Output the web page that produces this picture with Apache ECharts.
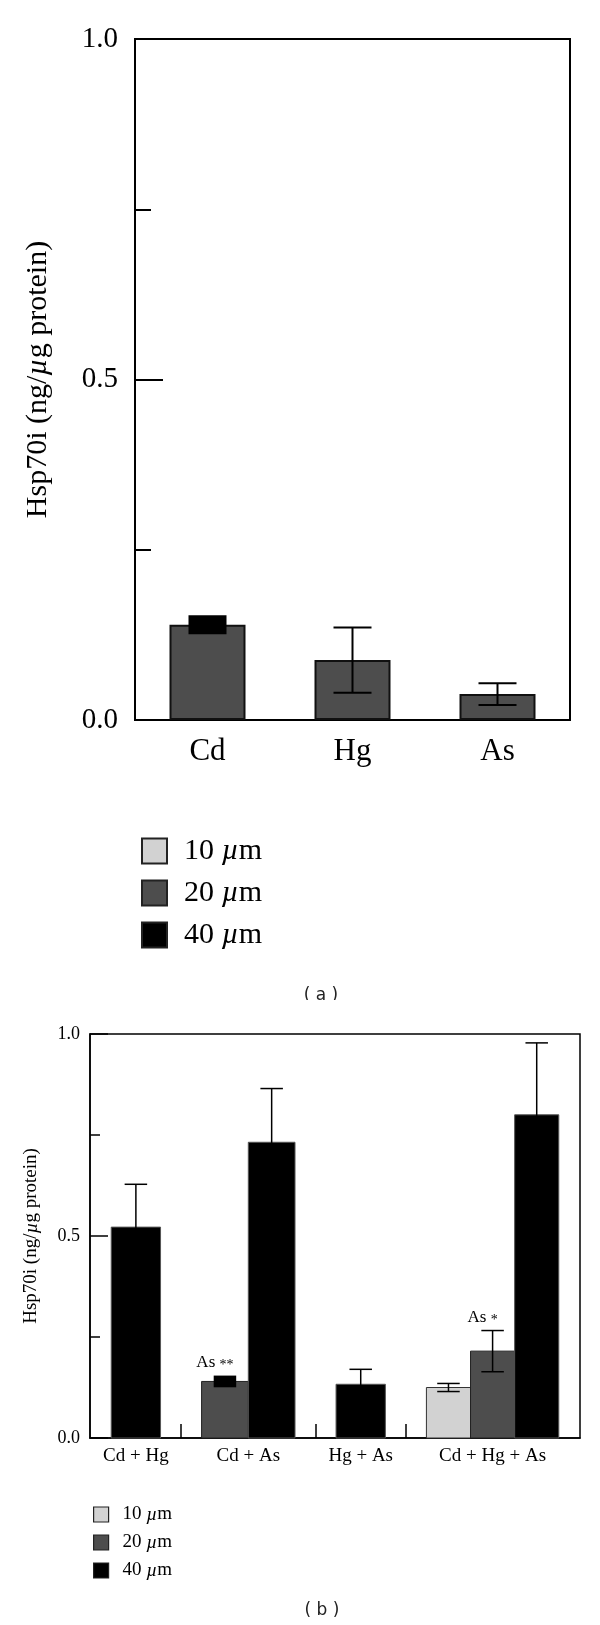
<!DOCTYPE html>
<html>
<head>
<meta charset="utf-8">
<script src="https://cdn.jsdelivr.net/npm/echarts@6/dist/echarts.min.js"></script>
<style>
html, body { margin: 0; padding: 0; background: #fff; }
#chartA { position: absolute; left: 0; top: 0; width: 600px; height: 1000px; }
#chartB { position: absolute; left: 0; top: 1000px; width: 600px; height: 625px; }
</style>
</head>
<body>
<div id="chartA"></div>
<div id="chartB"></div>
<script>
// (a) single metals
var metalsA = ['Cd', 'Hg', 'As'];
var a10 = [null, null, null];
var a20 = [0.14, 0.088, 0.038];
var a40 = [null, null, null];
var a20Err = [0.014, 0.048, 0.016];

// (b) mixtures
var mixB = ['Cd + Hg', 'Cd + As', 'Hg + As', 'Cd + Hg + As'];
var b10 = [null, null, null, 0.125];
var b20 = [null, 0.14, null, 0.215];
var b40 = [0.522, 0.732, 0.133, 0.80];
var b10Err = [null, null, null, 0.01];
var b20Err = [null, 0.0145, null, 0.051];
var b40Err = [0.106, 0.133, 0.037, 0.178];
var b20Marks = [null, 'As **', null, 'As *'];

var yLabels = ['0.0', '0.5', '1.0'];
var legendNames = ['10 µm', '20 µm', '40 µm'];
var yName = 'Hsp70i (ng/µg protein)';

var SERIF = '"Liberation Serif", "Times New Roman", serif';
var fills = ['#d2d2d2', '#4d4d4d', '#000000'];

// error bars drawn as a filled block (as in the figure)
var boxedA = { 'Cd': true };
var boxedB = { 'Cd + As|1': true };

function mu(s) { return s.replace('µ', '{i|µ}'); }
function muRich(size) {
  return { i: { fontFamily: SERIF, fontStyle: 'italic', fontSize: size, color: '#000' } };
}
function yLabel(v) {
  var k = v * 2;
  return Math.abs(k - Math.round(k)) < 1e-6 ? yLabels[Math.round(k)] : '';
}
function legendData(border, bw) {
  return legendNames.map(function (n, i) {
    return { name: n, itemStyle: { color: fills[i], borderColor: border, borderWidth: bw } };
  });
}
function errRender(capPx, lw, markSize, marks) {
  return function (params, api) {
    var x = api.value(0), lo = api.value(1), hi = api.value(2), boxed = api.value(3);
    var pt = api.coord([x, hi]), pb = api.coord([x, lo]);
    var half = capPx / 2;
    var kids = [];
    if (boxed) {
      kids.push({ type: 'rect', shape: { x: pt[0] - half, y: pt[1], width: capPx, height: pb[1] - pt[1] },
        style: { fill: '#000' } });
    } else {
      var ls = { stroke: '#000', lineWidth: lw };
      kids.push({ type: 'line', shape: { x1: pt[0], y1: pt[1], x2: pb[0], y2: pb[1] }, style: ls });
      kids.push({ type: 'line', shape: { x1: pt[0] - half, y1: pt[1], x2: pt[0] + half, y2: pt[1] }, style: ls });
      kids.push({ type: 'line', shape: { x1: pb[0] - half, y1: pb[1], x2: pb[0] + half, y2: pb[1] }, style: ls });
    }
    var mark = marks ? marks[params.dataIndex] : null;
    if (mark) {
      var parts = mark.split(' ');
      kids.push({ type: 'text', x: pt[0] - 10, y: pt[1] - 13,
        style: {
          text: parts[0] + ' {s|' + parts[1] + '}',
          fontFamily: SERIF, fontSize: markSize, fill: '#000', align: 'center', verticalAlign: 'middle',
          rich: { s: { fontFamily: SERIF, fontSize: markSize - 3, padding: [6, 0, 0, 0] } }
        } });
    }
    return { type: 'group', children: kids };
  };
}

// ---------- chart (a) ----------
var chartA = echarts.init(document.getElementById('chartA'));
var barA = function (name, data, i) {
  return {
    name: name, type: 'bar', data: data, barWidth: 76, barGap: '-100%',
    itemStyle: { color: fills[i], borderColor: '#111', borderWidth: 2 }
  };
};
chartA.setOption({
  animation: false,
  grid: { left: 135, top: 39, width: 435, height: 681, show: true, borderColor: '#000', borderWidth: 2 },
  legend: {
    orient: 'vertical', left: 136, top: 831, itemWidth: 25, itemHeight: 25, itemGap: 12,
    icon: 'rect', selectedMode: false,
    formatter: mu,
    textStyle: { fontFamily: SERIF, fontSize: 30, color: '#000', padding: [0, 0, 0, 12], rich: muRich(30) },
    data: legendData('#222', 2)
  },
  xAxis: {
    type: 'category', data: metalsA,
    axisLine: { lineStyle: { color: '#000', width: 2 } },
    axisTick: { inside: true, length: 25, lineStyle: { color: '#000', width: 2 } },
    axisLabel: { fontFamily: SERIF, fontSize: 31, color: '#000', margin: 16 }
  },
  yAxis: [{
    type: 'value', min: 0, max: 1, interval: 0.25,
    name: mu(yName), nameLocation: 'middle', nameGap: 82,
    nameTextStyle: { fontFamily: SERIF, fontSize: 30, color: '#000', rich: muRich(30) },
    axisLine: { show: true, lineStyle: { color: '#000', width: 2 } },
    axisTick: { show: true, inside: true, length: 16, lineStyle: { color: '#000', width: 2 } },
    axisLabel: { formatter: yLabel, fontFamily: SERIF, fontSize: 29, color: '#000', margin: 17 },
    splitLine: { show: false }
  }, {
    type: 'value', min: 0, max: 1, interval: 0.5, position: 'left',
    axisLine: { show: false },
    axisTick: { show: true, inside: true, length: 28, lineStyle: { color: '#000', width: 2 } },
    axisLabel: { show: false }, splitLine: { show: false }
  }],
  series: [
    barA(legendNames[0], a10, 0),
    barA(legendNames[1], a20, 1),
    barA(legendNames[2], a40, 2),
    {
      type: 'custom', z: 5,
      renderItem: errRender(38, 2, 24, null),
      data: a20.map(function (v, i) {
        return [i, v - a20Err[i], v + a20Err[i], boxedA[metalsA[i]] ? 1 : 0];
      })
    }
  ],
  graphic: [{
    type: 'text', x: 321, y: 996,
    style: { text: '( a )', font: '17px "DejaVu Sans"', fill: '#222', align: 'center', verticalAlign: 'middle' }
  }]
});

// ---------- chart (b) ----------
// groups sit side by side on a hidden value scale; bars in bigger groups are a bit narrower
var bVals = [b10, b20, b40];
var bErrs = [b10Err, b20Err, b40Err];
var MARGIN = 0.45, GAP = 0.87;
var slotX = [[], [], []], slotW = [], groupCenter = [], groupSep = [];
var pos = MARGIN;
mixB.forEach(function (g, gi) {
  if (gi > 0) { groupSep.push(pos + GAP / 2); pos += GAP; }
  var n = bVals.filter(function (arr) { return arr[gi] != null; }).length;
  var w = 1.1 - 0.055 * n;
  slotW[gi] = w;
  var start = pos;
  bVals.forEach(function (arr, si) {
    if (arr[gi] != null) { slotX[si][gi] = pos + w / 2; pos += w; }
  });
  groupCenter.push((start + pos) / 2);
});
var xMax = pos + MARGIN;

var bBorders = ['#333', '#222', '#555'];
function barRenderB(si) {
  return function (params, api) {
    var x = api.value(0), v = api.value(1), w = api.value(2);
    var p0 = api.coord([x - w / 2, v]), p1 = api.coord([x + w / 2, 0]);
    return {
      type: 'rect',
      shape: { x: p0[0], y: p0[1], width: p1[0] - p0[0], height: p1[1] - p0[1] },
      style: { fill: fills[si], stroke: bBorders[si], lineWidth: 1 }
    };
  };
}
var seriesB = bVals.map(function (arr, si) {
  var d = [];
  arr.forEach(function (v, gi) { if (v != null) d.push([slotX[si][gi], v, slotW[gi]]); });
  return { name: legendNames[si], type: 'custom', renderItem: barRenderB(si), data: d,
    itemStyle: { color: fills[si] } };
});
var errDataB = [], errMarksB = [];
bVals.forEach(function (arr, si) {
  arr.forEach(function (v, gi) {
    if (v == null) return;
    var e = bErrs[si][gi];
    errDataB.push([slotX[si][gi], v - e, v + e, boxedB[mixB[gi] + '|' + si] ? 1 : 0]);
    errMarksB.push(si === 1 ? b20Marks[gi] : null);
  });
});
seriesB.push({ type: 'custom', z: 5, renderItem: errRender(22.5, 1.5, 17, errMarksB), data: errDataB });

var chartB = echarts.init(document.getElementById('chartB'));
chartB.setOption({
  animation: false,
  grid: { left: 90, top: 34, width: 490, height: 404, show: true, borderColor: '#000', borderWidth: 1.5 },
  legend: {
    orient: 'vertical', left: 88, top: 500, itemWidth: 15, itemHeight: 15, itemGap: 9,
    icon: 'rect', selectedMode: false,
    formatter: mu,
    textStyle: { fontFamily: SERIF, fontSize: 19, color: '#000', padding: [0, 0, 0, 9], rich: muRich(19) },
    data: legendData('#222', 1.2)
  },
  xAxis: {
    type: 'value', min: 0, max: xMax,
    axisLine: { show: true, lineStyle: { color: '#000', width: 1.5 } },
    axisTick: { show: true, inside: true, length: 14, customValues: groupSep,
      lineStyle: { color: '#000', width: 1.5 } },
    axisLabel: {
      customValues: groupCenter, fontFamily: SERIF, fontSize: 19, color: '#000', margin: 9,
      formatter: function (v) {
        var best = 0;
        groupCenter.forEach(function (c, i) { if (Math.abs(c - v) < Math.abs(groupCenter[best] - v)) best = i; });
        return mixB[best];
      }
    },
    splitLine: { show: false }
  },
  yAxis: [{
    type: 'value', min: 0, max: 1, interval: 0.25,
    name: mu(yName), nameLocation: 'middle', nameGap: 49,
    nameTextStyle: { fontFamily: SERIF, fontSize: 19, color: '#000', rich: muRich(19) },
    axisLine: { show: true, lineStyle: { color: '#000', width: 1.5 } },
    axisTick: { show: true, inside: true, length: 10, lineStyle: { color: '#000', width: 1.5 } },
    axisLabel: { formatter: yLabel, fontFamily: SERIF, fontSize: 18, color: '#000', margin: 10 },
    splitLine: { show: false }
  }, {
    type: 'value', min: 0, max: 1, interval: 0.5, position: 'left',
    axisLine: { show: false },
    axisTick: { show: true, inside: true, length: 18, lineStyle: { color: '#000', width: 1.5 } },
    axisLabel: { show: false }, splitLine: { show: false }
  }],
  series: seriesB,
  graphic: [{
    type: 'text', x: 322, y: 611,
    style: { text: '( b )', font: '17px "DejaVu Sans"', fill: '#222', align: 'center', verticalAlign: 'middle' }
  }]
});
</script>
</body>
</html>
